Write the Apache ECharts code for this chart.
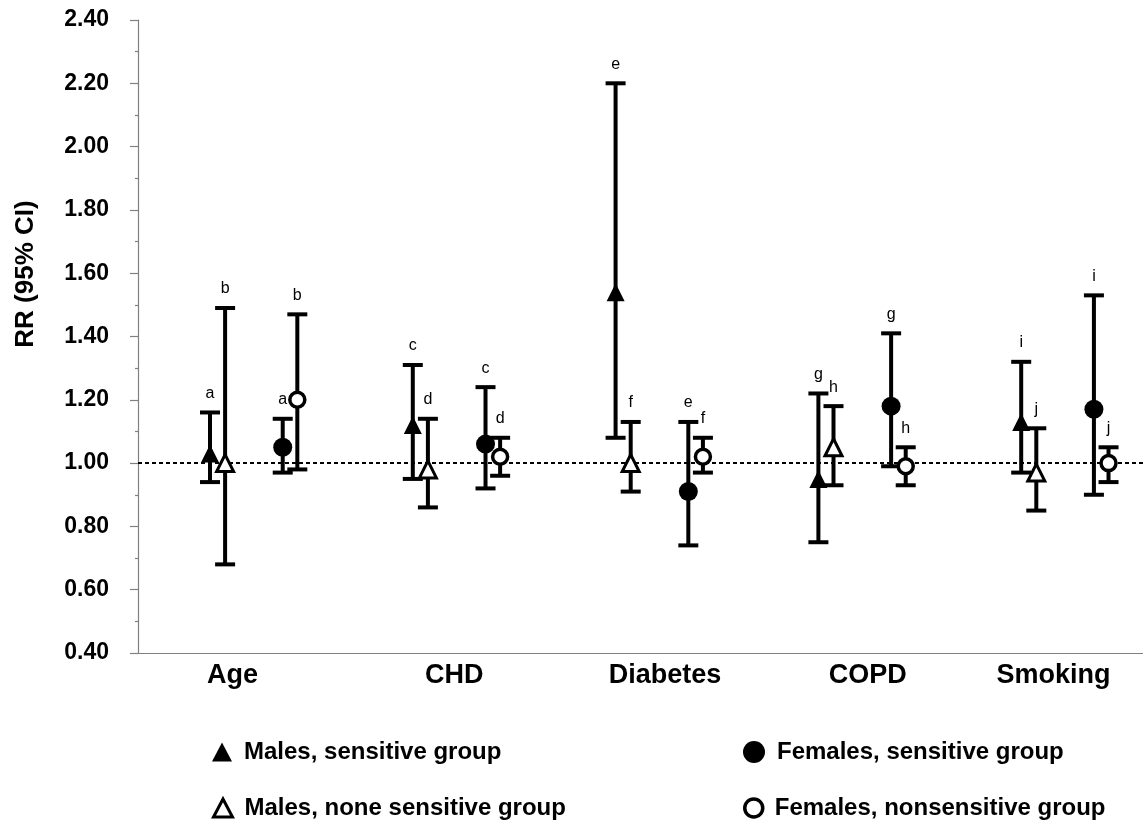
<!DOCTYPE html>
<html>
<head>
<meta charset="utf-8">
<script src="https://cdn.jsdelivr.net/npm/echarts@6/dist/echarts.min.js"></script>
<style>
html,body{margin:0;padding:0;background:#fff;}
#chart{width:1143px;height:820px;}
</style>
</head>
<body>
<div id="chart"></div>
<script>
// ---------- data ----------
const categories = ['Age', 'CHD', 'Diabetes', 'COPD', 'Smoking'];

const maleSensRR   = [1.03, 1.12, 1.54, 0.95, 1.13];
const maleSensLow  = [0.94, 0.95, 1.08, 0.75, 0.97];
const maleSensHigh = [1.16, 1.31, 2.20, 1.22, 1.32];

const maleNonRR    = [1.00, 0.98, 1.00, 1.05, 0.97];
const maleNonLow   = [0.68, 0.86, 0.91, 0.93, 0.85];
const maleNonHigh  = [1.49, 1.14, 1.13, 1.18, 1.11];

const femSensRR    = [1.05, 1.06, 0.91, 1.18, 1.17];
const femSensLow   = [0.97, 0.92, 0.74, 0.99, 0.90];
const femSensHigh  = [1.14, 1.24, 1.13, 1.41, 1.53];

const femNonRR     = [1.20, 1.02, 1.02, 0.99, 1.00];
const femNonLow    = [0.98, 0.96, 0.97, 0.93, 0.94];
const femNonHigh   = [1.47, 1.08, 1.08, 1.05, 1.05];

const lettersSens  = ['a', 'c', 'e', 'g', 'i'];
const lettersNon   = ['b', 'd', 'f', 'h', 'j'];

const seriesNames = [
  'Males, sensitive group',
  'Males, none sensitive group',
  'Females, sensitive group',
  'Females, nonsensitive group'
];

const yMin = 0.4, yMax = 2.4, yStep = 0.2;
const refLine = 1.0;

// ---------- styling / layout ----------
const FONT = "'Liberation Sans', Arial, Helvetica, sans-serif";
const groupOffset = [-0.145, -0.0705, 0.2136, 0.2856]; // within a category band
const labelShift = [-7, 12, 20, 20, 3];                 // px shift of category labels
const legendPos = [[207, 735], [207, 791], [738, 735], [738, 791]];

const groups = [
  { name: seriesNames[0], rr: maleSensRR, lo: maleSensLow, hi: maleSensHigh, letters: lettersSens,
    symbol: 'triangle', size: [18, 18], fill: '#000', border: 0, icon: [20, 19] },
  { name: seriesNames[1], rr: maleNonRR, lo: maleNonLow, hi: maleNonHigh, letters: lettersNon,
    symbol: 'triangle', size: [17, 17], fill: '#fff', border: 3, icon: [19, 18] },
  { name: seriesNames[2], rr: femSensRR, lo: femSensLow, hi: femSensHigh, letters: lettersSens,
    symbol: 'circle', size: 19, fill: '#000', border: 0, icon: [22, 22] },
  { name: seriesNames[3], rr: femNonRR, lo: femNonLow, hi: femNonHigh, letters: lettersNon,
    symbol: 'circle', size: 15, fill: '#fff', border: 3.5, icon: [18, 18] }
];

const series = [];
groups.forEach(function (g, gi) {
  const xs = categories.map(function (c, i) { return i + 0.5 + groupOffset[gi]; });
  // error bars + letters
  series.push({
    type: 'custom',
    name: g.name + ' CI',
    xAxisIndex: 1, yAxisIndex: 0,
    silent: true,
    z: 2,
    data: xs.map(function (x, i) { return [x, g.lo[i], g.hi[i]]; }),
    renderItem: function (params, api) {
      const x = api.value(0);
      const pLo = api.coord([x, api.value(1)]);
      const pHi = api.coord([x, api.value(2)]);
      const cap = 10;
      const ls = { stroke: '#000', lineWidth: 4 };
      return {
        type: 'group',
        children: [
          { type: 'line', shape: { x1: pLo[0], y1: pLo[1], x2: pHi[0], y2: pHi[1] }, style: ls },
          { type: 'line', shape: { x1: pHi[0] - cap, y1: pHi[1], x2: pHi[0] + cap, y2: pHi[1] }, style: ls },
          { type: 'line', shape: { x1: pLo[0] - cap, y1: pLo[1], x2: pLo[0] + cap, y2: pLo[1] }, style: ls },
          { type: 'text', style: {
              text: g.letters[params.dataIndex], x: pHi[0], y: pHi[1] - 11,
              align: 'center', verticalAlign: 'bottom',
              font: '16px ' + FONT, fill: '#000' } }
        ]
      };
    }
  });
  // markers
  const sc = {
    type: 'scatter',
    name: g.name,
    xAxisIndex: 1, yAxisIndex: 0,
    z: 5,
    symbol: g.symbol,
    symbolSize: g.size,
    itemStyle: { color: g.fill, borderColor: '#000', borderWidth: g.border, opacity: 1 },
    data: xs.map(function (x, i) { return [x, g.rr[i]]; })
  };
  if (gi === 3) {
    sc.markLine = {
      silent: true,
      symbol: ['none', 'none'],
      label: { show: false },
      lineStyle: { color: '#000', width: 2, type: [4, 3] },
      data: [{ yAxis: refLine }],
      z: 1
    };
  }
  series.push(sc);
});

const legends = groups.map(function (g, gi) {
  return {
    left: legendPos[gi][0], top: legendPos[gi][1],
    orient: 'horizontal',
    itemWidth: g.icon[0], itemHeight: g.icon[1],
    selectedMode: false,
    textStyle: { fontFamily: FONT, fontSize: 24, fontWeight: 'bold', color: '#000', padding: [0, 0, 0, 7] },
    data: [{
      name: g.name, icon: g.symbol,
      itemStyle: { color: g.fill, borderColor: '#000', borderWidth: g.border }
    }]
  };
});

const rich = {};
labelShift.forEach(function (s, i) {
  rich['c' + i] = {
    fontFamily: FONT, fontSize: 27, fontWeight: 'bold', color: '#000',
    padding: s >= 0 ? [0, 0, 0, 2 * s] : [0, -2 * s, 0, 0]
  };
});

const chart = echarts.init(document.getElementById('chart'), null, { renderer: 'canvas' });
chart.setOption({
  animation: false,
  backgroundColor: '#fff',
  textStyle: { fontFamily: FONT },
  grid: { left: 138, top: 20, width: 1014, bottom: 167, containLabel: false, outerBoundsMode: 'none' },
  xAxis: [
    {
      type: 'category',
      data: categories,
      boundaryGap: true,
      axisLine: { show: true, lineStyle: { color: '#808080', width: 1.2 } },
      axisTick: { show: false },
      splitLine: { show: false },
      axisLabel: {
        margin: 9,
        interval: 0,
        formatter: function (v, i) { return '{c' + i + '|' + v + '}'; },
        rich: rich
      }
    },
    {
      type: 'value',
      min: 0, max: categories.length,
      show: false
    }
  ],
  yAxis: {
    type: 'value',
    min: yMin, max: yMax, interval: yStep,
    axisLine: { show: true, lineStyle: { color: '#808080', width: 1.2 } },
    axisTick: { show: true, length: 8, lineStyle: { color: '#808080', width: 1.2 } },
    minorTick: { show: true, splitNumber: 2, length: 3, lineStyle: { color: '#808080', width: 1.2 } },
    splitLine: { show: false },
    axisLabel: {
      margin: 29,
      fontFamily: FONT, fontSize: 23, fontWeight: 'bold', color: '#000',
      formatter: function (v) { return v.toFixed(2); }
    }
  },
  legend: legends,
  graphic: [
    {
      type: 'text',
      x: 26, y: 274,
      rotation: Math.PI / 2,
      style: {
        text: 'RR (95% CI)',
        font: 'bold 26px ' + FONT,
        fill: '#000',
        align: 'center',
        verticalAlign: 'middle'
      }
    }
  ],
  series: series
});
</script>
</body>
</html>
